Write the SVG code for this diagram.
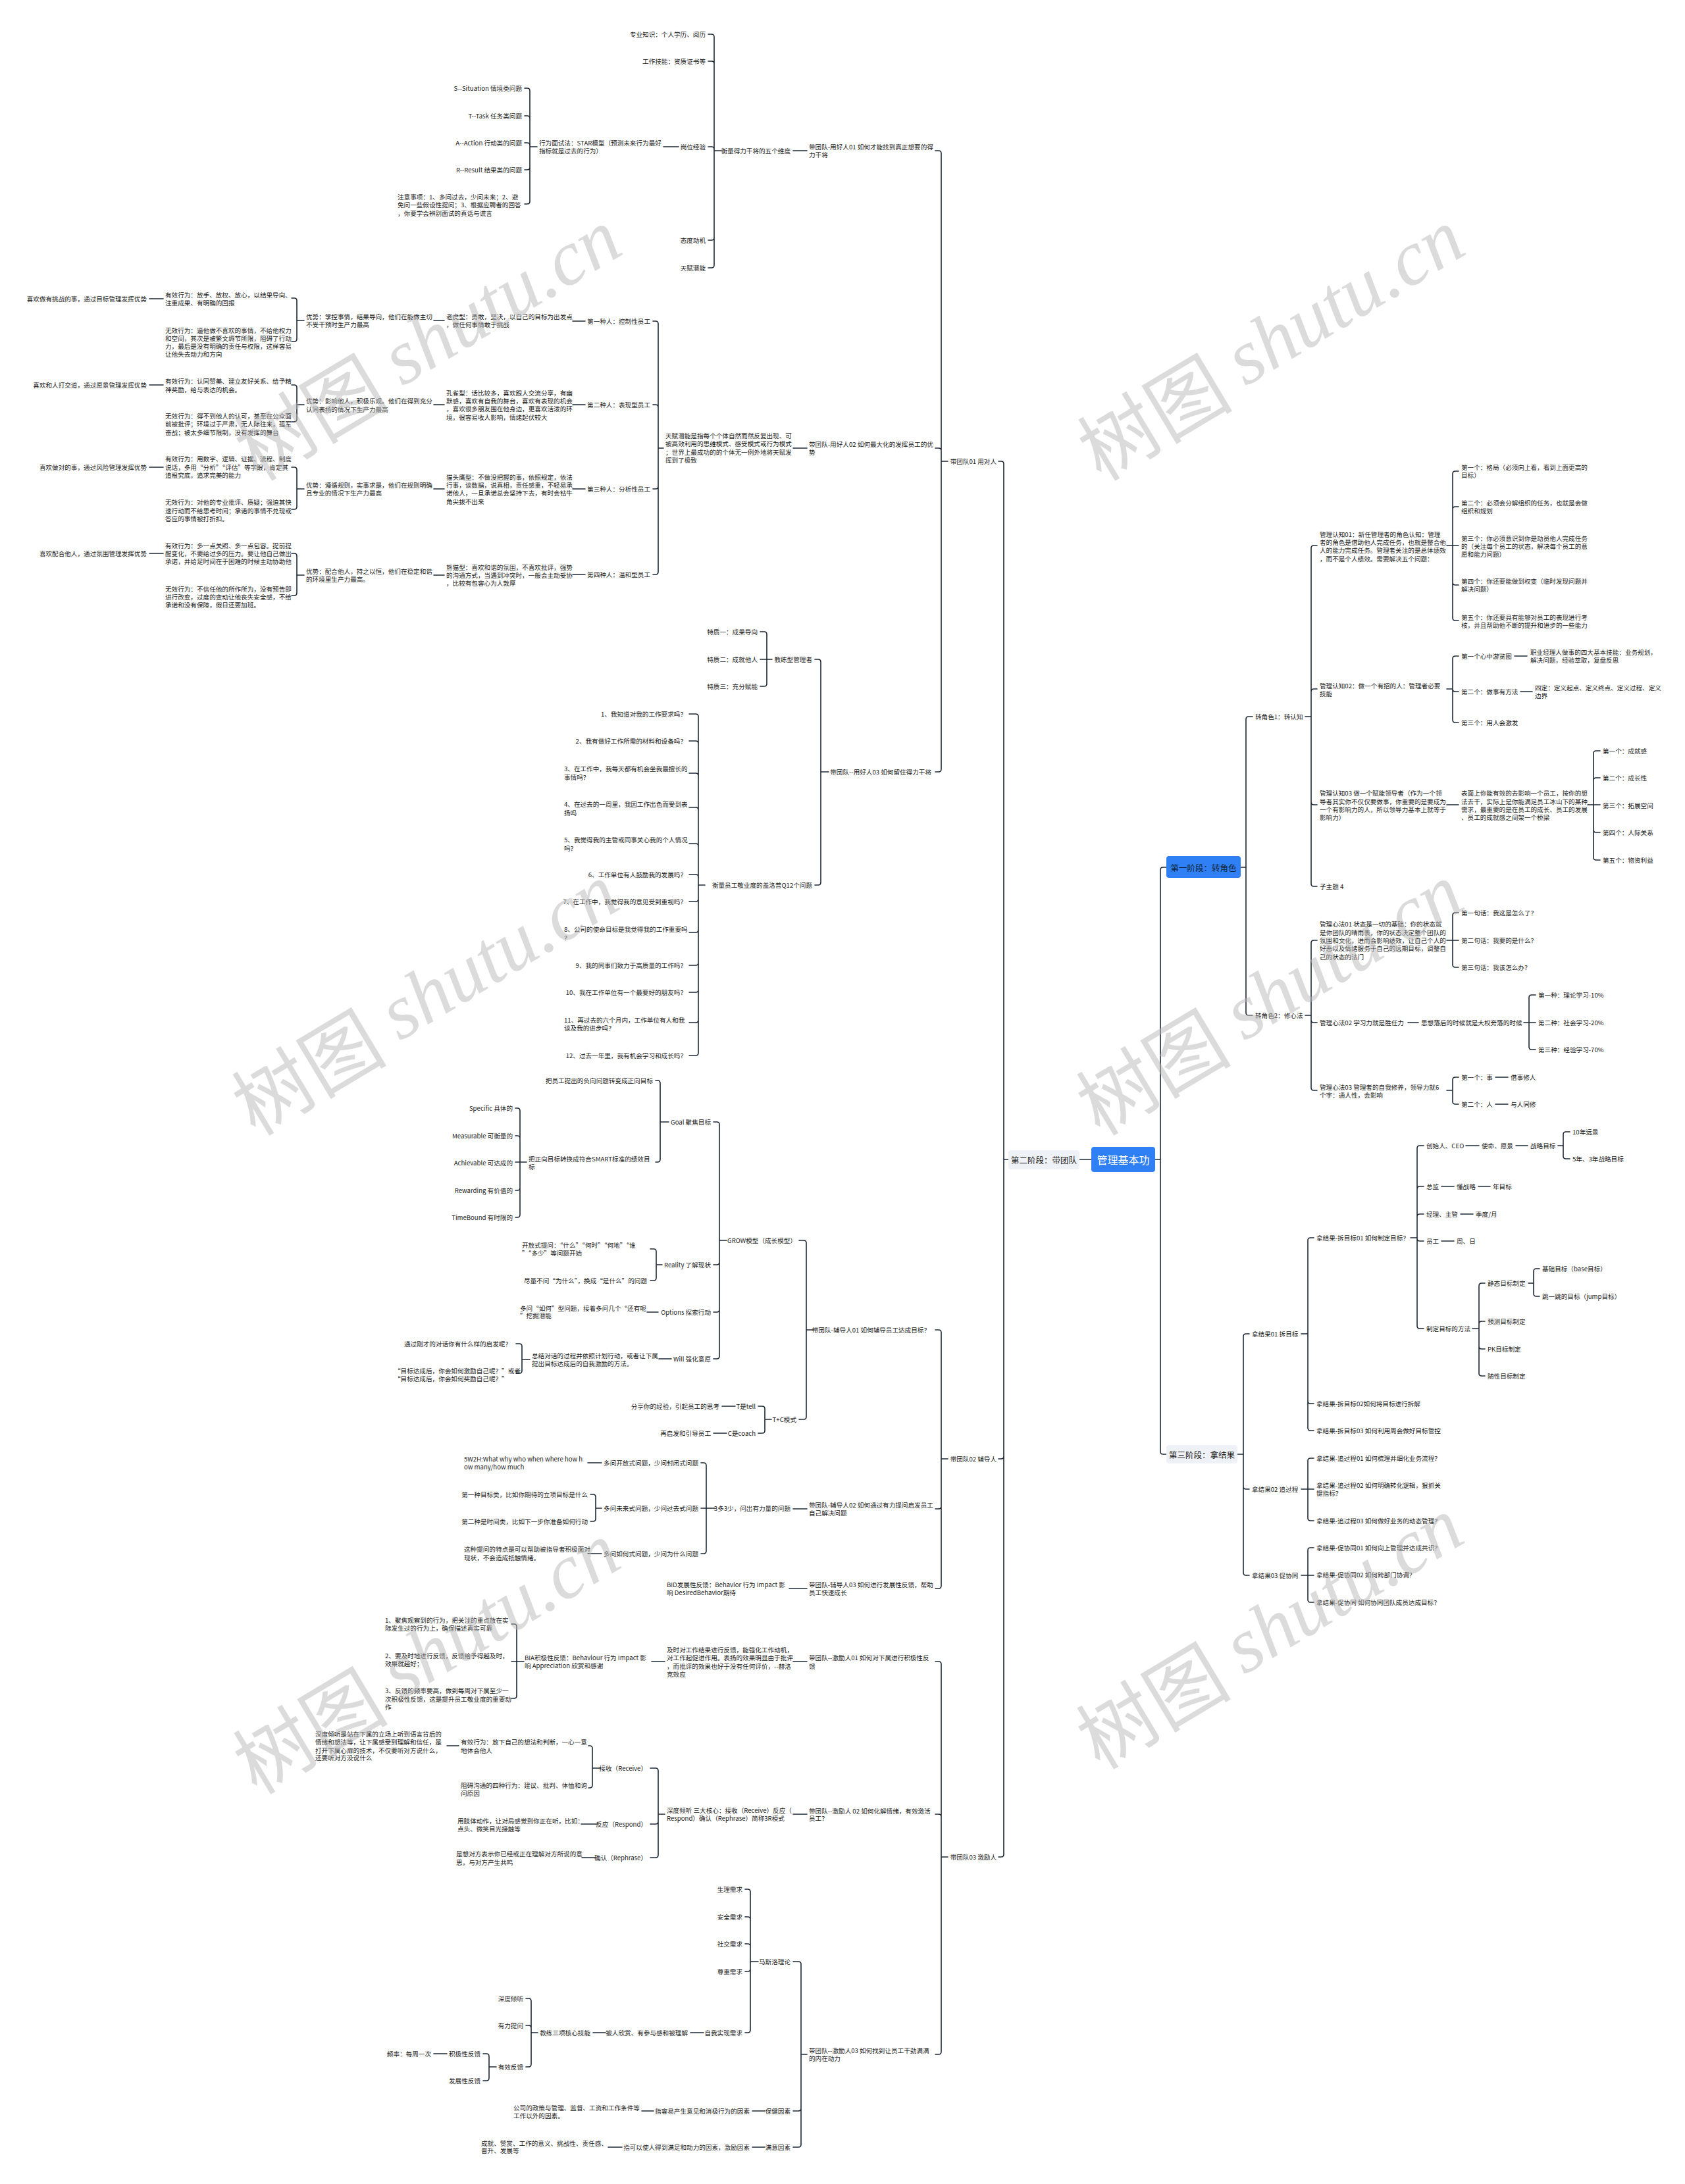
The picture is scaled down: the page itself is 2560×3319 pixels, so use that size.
<svg xmlns="http://www.w3.org/2000/svg" width="2560" height="3319" viewBox="0 0 2560 3319">
<style>
text{font-family:"Noto Sans CJK SC","Noto Sans",sans-serif;font-size:9.6px;fill:#1a1a1a;dominant-baseline:central}
.e{text-anchor:end}
.c{stroke:#1d2734;stroke-width:1.6;fill:none;stroke-linecap:round}
.big{font-size:12.5px}
.wm{font-size:118px;fill:#b8b8b8;opacity:0.5;text-anchor:middle}
</style>
<rect width="2560" height="3319" fill="#fff"/>
<g id="connectors" class="c">
<path d="M1658,1762H1640 M1532,1762H1525 M1525,1762V705Q1525,701 1521,701H1517 M1525,1762V2213Q1525,2217 1521,2217H1517 M1525,1762V2818Q1525,2822 1521,2822H1517"/>
<path d="M1755,1762H1763 M1763,1762V1322Q1763,1318 1767,1318H1772 M1763,1762V2206Q1763,2210 1767,2210H1772"/>
<path d="M1440,701H1430 M1430,701V233Q1430,229 1426,229H1421 M1430,701V685Q1430,681 1426,681H1421 M1430,701V1169Q1430,1173 1426,1173H1421"/>
<path d="M1226,229H1205"/>
<path d="M1096,229H1085 M1085,229V56Q1085,52 1081,52H1076 M1085,229V97Q1085,93 1081,93H1076 M1085,229V227Q1085,223 1081,223H1076 M1085,229V361Q1085,365 1081,365H1076 M1085,229V403Q1085,407 1081,407H1076"/>
<path d="M1031,223H1008"/>
<path d="M816,223H805 M805,223V138Q805,134 801,134H797 M805,223V180Q805,176 801,176H797 M805,223V221Q805,217 801,217H797 M805,223V254Q805,258 801,258H797 M805,223V306Q805,310 801,310H797"/>
<path d="M1226,681H1205"/>
<path d="M1008,681H1000 M1000,681V492Q1000,488 996,488H992 M1000,681V619Q1000,615 996,615H992 M1000,681V739Q1000,743 996,743H992 M1000,681V869Q1000,873 996,873H992"/>
<path d="M889,488H870 M889,615H870 M889,743H870 M889,873H870"/>
<path d="M675,487H659 M675,615H659 M675,743H659 M675,874H659"/>
<path d="M462,487H451 M451,487V457Q451,453 447,453H443 M451,487V515Q451,519 447,519H443"/>
<path d="M462,615H451 M451,615V589Q451,585 447,585H443 M451,615V637Q451,641 447,641H443"/>
<path d="M462,743H451 M451,743V714Q451,710 447,710H443 M451,743V770Q451,774 447,774H443"/>
<path d="M462,874H451 M451,874V845Q451,841 447,841H443 M451,874V901Q451,905 447,905H443"/>
<path d="M248,454H227 M248,585H227 M248,710H227 M248,841H227"/>
<path d="M1259,1173H1247 M1247,1173V1006Q1247,1002 1243,1002H1238 M1247,1173V1341Q1247,1345 1243,1345H1238"/>
<path d="M1173,1002H1155 M1165,1002V964Q1165,960 1161,960H1155 M1165,1002V1039Q1165,1043 1161,1043H1155"/>
<path d="M1071,1345H1061 M1061,1345V1089Q1061,1085 1057,1085H1047 M1061,1345V1130Q1061,1126 1057,1126H1047 M1061,1345V1179Q1061,1175 1057,1175H1047 M1061,1345V1231Q1061,1227 1057,1227H1047 M1061,1345V1286Q1061,1282 1057,1282H1047 M1061,1345V1333Q1061,1329 1057,1329H1047 M1061,1345V1366Q1061,1370 1057,1370H1047 M1061,1345V1413Q1061,1417 1057,1417H1047 M1061,1345V1463Q1061,1467 1057,1467H1047 M1061,1345V1504Q1061,1508 1057,1508H1047 M1061,1345V1550Q1061,1554 1057,1554H1047 M1061,1345V1600Q1061,1604 1057,1604H1047"/>
<path d="M1440,2217H1430 M1430,2217V2025Q1430,2021 1426,2021H1421 M1430,2217V2289Q1430,2293 1426,2293H1421 M1430,2217V2410Q1430,2414 1426,2414H1421"/>
<path d="M1236,2021H1225 M1225,2021V1889Q1225,1885 1221,1885H1214 M1225,2021V2153Q1225,2157 1221,2157H1214"/>
<path d="M1104,1885H1093 M1093,1885V1709Q1093,1705 1089,1705H1084 M1093,1885V1918Q1093,1922 1089,1922H1084 M1093,1885V1990Q1093,1994 1089,1994H1084 M1093,1885V2061Q1093,2065 1089,2065H1084"/>
<path d="M1016,1705H1003 M1003,1705V1646Q1003,1642 999,1642H996 M1003,1705V1762Q1003,1766 999,1766H996"/>
<path d="M800,1766H783 M790,1766V1688Q790,1684 786,1684H783 M790,1766V1730Q790,1726 786,1726H783 M790,1766V1805Q790,1809 786,1809H783 M790,1766V1846Q790,1850 786,1850H783"/>
<path d="M1006,1922H997 M997,1922V1902Q997,1898 993,1898H988 M997,1922V1942Q997,1946 993,1946H988"/>
<path d="M1000,1994H983 M1020,2065H1001"/>
<path d="M805,2066H793 M793,2066V2046Q793,2042 789,2042H784 M793,2066V2083Q793,2087 789,2087H784"/>
<path d="M1172,2157H1162 M1162,2157V2141Q1162,2137 1158,2137H1152 M1162,2157V2174Q1162,2178 1158,2178H1152"/>
<path d="M1117,2137H1097 M1104,2178H1084"/>
<path d="M1226,2293H1205"/>
<path d="M1086,2292H1065 M1073,2292V2227Q1073,2223 1069,2223H1065 M1073,2292V2357Q1073,2361 1069,2361H1065"/>
<path d="M914,2223H893 M914,2361H893"/>
<path d="M914,2292H905 M905,2292V2275Q905,2271 901,2271H897 M905,2292V2308Q905,2312 901,2312H897"/>
<path d="M1226,2414H1199"/>
<path d="M1440,2822H1430 M1430,2822V2529Q1430,2525 1426,2525H1421 M1430,2822V2761Q1430,2757 1426,2757H1421 M1430,2822V3118Q1430,3122 1426,3122H1421"/>
<path d="M1226,2525H1205 M1010,2525H990"/>
<path d="M796,2525H777 M785,2525V2472Q785,2468 781,2468H777 M785,2525V2577Q785,2581 781,2581H777"/>
<path d="M1226,2757H1205"/>
<path d="M1010,2757H1000 M1000,2757V2691Q1000,2687 996,2687H988 M1000,2757V2768Q1000,2772 996,2772H988 M1000,2757V2819Q1000,2823 996,2823H988"/>
<path d="M912,2687H900 M900,2687V2657Q900,2653 896,2653H894 M900,2687V2713Q900,2717 896,2717H894"/>
<path d="M697,2653H679 M907,2772H883 M904,2823H884"/>
<path d="M1226,3122H1217 M1217,3122V2985Q1217,2981 1213,2981H1205 M1217,3122V3204Q1217,3208 1213,3208H1205 M1217,3122V3259Q1217,3263 1213,3263H1205"/>
<path d="M1152,2981H1140 M1140,2981V2875Q1140,2871 1136,2871H1132 M1140,2981V2917Q1140,2913 1136,2913H1132 M1140,2981V2958Q1140,2954 1136,2954H1132 M1140,2981V2992Q1140,2996 1136,2996H1132 M1140,2981V3085Q1140,3089 1136,3089H1132"/>
<path d="M1069,3089H1049 M920,3089H901"/>
<path d="M817,3089H807 M807,3089V3041Q807,3037 803,3037H799 M807,3089V3082Q807,3078 803,3078H799 M807,3089V3137Q807,3141 803,3141H799"/>
<path d="M754,3141H743 M743,3141V3125Q743,3121 739,3121H734 M743,3141V3158Q743,3162 739,3162H734"/>
<path d="M679,3121H659"/>
<path d="M1162,3208H1143 M993,3208H975 M1162,3263H1143 M945,3263H924"/>
<path d="M1885,1318H1893 M1893,1318V1093Q1893,1089 1897,1089H1903 M1893,1318V1539Q1893,1543 1897,1543H1903"/>
<path d="M1983,1089H1992 M1992,1089V833Q1992,829 1996,829H2001 M1992,1089V1051Q1992,1047 1996,1047H2001 M1992,1089V1219Q1992,1223 1996,1223H2001 M1992,1089V1343Q1992,1347 1996,1347H2001"/>
<path d="M2198,829H2216 M2207,829V720Q2207,716 2211,716H2216 M2207,829V774Q2207,770 2211,770H2216 M2207,829V885Q2207,889 2211,889H2216 M2207,829V939Q2207,943 2211,943H2216"/>
<path d="M2198,1047H2207 M2207,1047V1001Q2207,997 2211,997H2216 M2207,1047Q2207,1051 2211,1051H2216 M2207,1047V1094Q2207,1098 2211,1098H2216"/>
<path d="M2301,997H2320 M2310,1051H2328"/>
<path d="M2198,1223H2216"/>
<path d="M2412,1223H2431 M2421,1223V1145Q2421,1141 2425,1141H2431 M2421,1223V1186Q2421,1182 2425,1182H2431 M2421,1223V1261Q2421,1265 2425,1265H2431 M2421,1223V1303Q2421,1307 2425,1307H2431"/>
<path d="M1983,1543H1992 M1992,1543V1433Q1992,1429 1996,1429H2001 M1992,1543V1550Q1992,1554 1996,1554H2001 M1992,1543V1653Q1992,1657 1996,1657H2001"/>
<path d="M2198,1429H2216 M2207,1429V1391Q2207,1387 2211,1387H2216 M2207,1429V1466Q2207,1470 2211,1470H2216"/>
<path d="M2139,1554H2155 M2315,1554H2333 M2323,1554V1516Q2323,1512 2327,1512H2333 M2323,1554V1591Q2323,1595 2327,1595H2333"/>
<path d="M2198,1657H2207 M2207,1657V1641Q2207,1637 2211,1637H2216 M2207,1657V1674Q2207,1678 2211,1678H2216"/>
<path d="M2272,1637H2291 M2272,1678H2291"/>
<path d="M1880,2210H1889 M1889,2210V2031Q1889,2027 1893,2027H1898 M1889,2210V2259Q1889,2263 1893,2263H1898 M1889,2210V2390Q1889,2394 1893,2394H1898"/>
<path d="M1977,2027H1987 M1987,2027V1885Q1987,1881 1991,1881H1996 M1987,2027V2129Q1987,2133 1991,2133H1996 M1987,2027V2170Q1987,2174 1991,2174H1996"/>
<path d="M2143,1881H2153 M2153,1881V1745Q2153,1741 2157,1741H2163 M2153,1881V1807Q2153,1803 2157,1803H2163 M2153,1881V1849Q2153,1845 2157,1845H2163 M2153,1881V1882Q2153,1886 2157,1886H2163 M2153,1881V2015Q2153,2019 2157,2019H2163"/>
<path d="M2227,1741H2247 M2303,1741H2321"/>
<path d="M2367,1741H2375 M2375,1741V1724Q2375,1720 2379,1720H2385 M2375,1741V1757Q2375,1761 2379,1761H2385"/>
<path d="M2190,1803H2209 M2246,1803H2264 M2219,1845H2238 M2190,1886H2209"/>
<path d="M2237,2019H2247 M2247,2019V1954Q2247,1950 2251,1950H2256 M2247,2019V2012Q2247,2008 2251,2008H2256 M2247,2019V2046Q2247,2050 2251,2050H2256 M2247,2019V2087Q2247,2091 2251,2091H2256"/>
<path d="M2322,1950H2330 M2330,1950V1932Q2330,1928 2334,1928H2339 M2330,1950V1966Q2330,1970 2334,1970H2339"/>
<path d="M1977,2263H1996 M1987,2263V2220Q1987,2216 1991,2216H1996 M1987,2263V2307Q1987,2311 1991,2311H1996"/>
<path d="M1977,2394H1996 M1987,2394V2356Q1987,2352 1991,2352H1996 M1987,2394V2431Q1987,2435 1991,2435H1996"/>
</g>

<g id="root"><rect x="1658" y="1743" width="97" height="38" rx="4" fill="#2f80f5"/><text x="1706.5" y="1762" text-anchor="middle" style="font-size:16px;fill:#fff">管理基本功</text></g>
<g id="stage2"><rect x="1532" y="1748" width="108" height="29" rx="4" fill="#eef1f5"/><text x="1586" y="1762.5" text-anchor="middle" class="big">第二阶段：带团队</text></g>
<g id="stage1"><rect x="1772" y="1301" width="113" height="33" rx="4" fill="#2f80f5"/><text x="1828.5" y="1318" text-anchor="middle" class="big" style="fill:#0f1f33">第一阶段：转角色</text></g>
<g id="stage3"><rect x="1772" y="2196" width="108" height="28" rx="4" fill="#eef1f5"/><text x="1826" y="2210" text-anchor="middle" class="big">第三阶段：拿结果</text></g>

<g id="n-team01"><text x="1514" y="701" class="e">带团队01 用对人</text></g>
<g id="n-team02"><text x="1514" y="2217" class="e">带团队02 辅导人</text></g>
<g id="n-team03"><text x="1514" y="2822" class="e">带团队03 激励人</text></g>

<g id="n-yhr01"><text><tspan x="1229" y="223">带团队-用好人01 如何才能找到真正想要的得</tspan><tspan x="1229" y="235">力干将</tspan></text></g>
<g id="n-hl"><text x="1201" y="229" class="e">衡量得力干将的五个维度</text></g>
<g id="n-zy"><text x="1072" y="52" class="e">专业知识：个人学历、阅历</text></g>
<g id="n-gj"><text x="1072" y="93" class="e">工作技能：资质证书等</text></g>
<g id="n-gw"><text x="1072" y="223" class="e">岗位经验</text></g>
<g id="n-td"><text x="1072" y="365" class="e">态度动机</text></g>
<g id="n-tf"><text x="1072" y="407" class="e">天赋潜能</text></g>
<g id="n-star"><text><tspan x="819" y="217">行为面试法：STAR模型（预测未来行为最好</tspan><tspan x="819" y="229">指标就是过去的行为）</tspan></text></g>
<g id="n-s"><text x="793" y="134" class="e">S--Situation 情境类问题</text></g>
<g id="n-t"><text x="793" y="176" class="e">T--Task 任务类问题</text></g>
<g id="n-a"><text x="793" y="217" class="e">A--Action 行动类的问题</text></g>
<g id="n-r"><text x="793" y="258" class="e">R--Result 结果类的问题</text></g>
<g id="n-zysx"><text><tspan x="604" y="299">注意事项：1、多问过去，少问未来；2、避</tspan><tspan x="604" y="311">免问一些假设性提问；3、根据应聘者的回答</tspan><tspan x="604" y="324">，你要学会辨别面试的真话与谎言</tspan></text></g>

<g id="n-yhr02"><text><tspan x="1229" y="675">带团队-用好人02 如何最大化的发挥员工的优</tspan><tspan x="1229" y="687">势</tspan></text></g>
<g id="n-tfqn"><text><tspan x="1011" y="662">天赋潜能是指每个个体自然而然反复出现、可</tspan><tspan x="1011" y="674">被高效利用的思维模式、感受模式或行为模式</tspan><tspan x="1011" y="687">；世界上最成功的的个体无一例外地将天赋发</tspan><tspan x="1011" y="699">挥到了极致</tspan></text></g>
<g id="n-p1"><text x="988" y="488" class="e">第一种人：控制性员工</text></g>
<g id="n-p2"><text x="988" y="615" class="e">第二种人：表现型员工</text></g>
<g id="n-p3"><text x="988" y="743" class="e">第三种人：分析性员工</text></g>
<g id="n-p4"><text x="988" y="873" class="e">第四种人：温和型员工</text></g>
<g id="n-d1"><text><tspan x="678" y="481">老虎型：勇敢，坚决，以自己的目标为出发点</tspan><tspan x="678" y="493">，做任何事情敢于挑战</tspan></text></g>
<g id="n-d2"><text><tspan x="678" y="597">孔雀型：话比较多，喜欢跟人交流分享，有幽</tspan><tspan x="678" y="609">默感，喜欢有自我的舞台，喜欢有表现的机会</tspan><tspan x="678" y="621">，喜欢很多朋友围在他身边，更喜欢活泼的环</tspan><tspan x="678" y="634">境，很容易收人影响，情绪起伏较大</tspan></text></g>
<g id="n-d3"><text><tspan x="678" y="725">猫头鹰型：不做没把握的事，依照规定，依法</tspan><tspan x="678" y="737">行事，谈数据，说真相，责任感重，不轻易承</tspan><tspan x="678" y="749">诺他人，一旦承诺总会坚持下去，有时会钻牛</tspan><tspan x="678" y="762">角尖拔不出来</tspan></text></g>
<g id="n-d4"><text><tspan x="678" y="862">熊猫型：喜欢和谐的氛围，不喜欢批评，强势</tspan><tspan x="678" y="874">的沟通方式，当遇到冲突时，一般会主动妥协</tspan><tspan x="678" y="886">，比较有包容心为人敦厚</tspan></text></g>
<g id="n-ys1"><text><tspan x="465" y="481">优势：掌控事情，结果导向，他们在能做主切</tspan><tspan x="465" y="493">不受干预时生产力最高</tspan></text></g>
<g id="n-ys2"><text><tspan x="465" y="609">优势：影响他人，积极乐观。他们在得到充分</tspan><tspan x="465" y="622">认同表扬的情况下生产力最高</tspan></text></g>
<g id="n-ys3"><text><tspan x="465" y="737">优势：遵循规则，实事求是，他们在规则明确</tspan><tspan x="465" y="749">且专业的情况下生产力最高</tspan></text></g>
<g id="n-ys4"><text><tspan x="465" y="868">优势：配合他人，持之以恒，他们在稳定和谐</tspan><tspan x="465" y="880">的环境里生产力最高。</tspan></text></g>
<g id="n-yx1"><text><tspan x="251" y="448">有效行为：放手、放权、放心，以结果导向、</tspan><tspan x="251" y="460">注重成果、有明确的回报</tspan></text></g>
<g id="n-wx1"><text><tspan x="251" y="502">无效行为：逼他做不喜欢的事情，不给他权力</tspan><tspan x="251" y="514">和空间，其次是被繁文缛节所限，阻碍了行动</tspan><tspan x="251" y="526">力，最后是没有明确的责任与权限，这样容易</tspan><tspan x="251" y="538">让他失去动力和方向</tspan></text></g>
<g id="n-yx2"><text><tspan x="251" y="579">有效行为：认同赞美、建立友好关系、给予精</tspan><tspan x="251" y="592">神奖励，给与表达的机会。</tspan></text></g>
<g id="n-wx2"><text><tspan x="251" y="632">无效行为：得不到他人的认可，甚至在公众面</tspan><tspan x="251" y="644">前被批评；环境过于严肃，无人际往来，孤军</tspan><tspan x="251" y="657">奋战；被太多细节限制，没有发挥的舞台</tspan></text></g>
<g id="n-yx3"><text><tspan x="251" y="697">有效行为：用数字、逻辑、证据、流程、制度</tspan><tspan x="251" y="710">说话，多用“分析”“评估”等字眼，肯定其</tspan><tspan x="251" y="722">追根究底，追求完美的能力</tspan></text></g>
<g id="n-wx3"><text><tspan x="251" y="763">无效行为：对他的专业批评、质疑；强迫其快</tspan><tspan x="251" y="776">速行动而不给思考时间；承诺的事情不兑现或</tspan><tspan x="251" y="788">答应的事情被打折扣。</tspan></text></g>
<g id="n-yx4"><text><tspan x="251" y="829">有效行为：多一点关照、多一点包容。提前提</tspan><tspan x="251" y="841">醒变化，不要给过多的压力。要让他自己做出</tspan><tspan x="251" y="853">承诺，并给足时间在于困难的时候主动协助他</tspan></text></g>
<g id="n-wx4"><text><tspan x="251" y="895">无效行为：不信任他的所作所为，没有预告即</tspan><tspan x="251" y="907">进行改变，过度的变动让他丧失安全感，不给</tspan><tspan x="251" y="919">承诺和没有保障，假日还要加班。</tspan></text></g>
<g id="n-xh1"><text x="223" y="454" class="e">喜欢做有挑战的事，通过目标管理发挥优势</text></g>
<g id="n-xh2"><text x="223" y="585" class="e">喜欢和人打交道，通过愿景管理发挥优势</text></g>
<g id="n-xh3"><text x="223" y="710" class="e">喜欢做对的事，通过风险管理发挥优势</text></g>
<g id="n-xh4"><text x="223" y="841" class="e">喜欢配合他人，通过氛围管理发挥优势</text></g>

<g id="n-yhr03"><text x="1415" y="1173" class="e">带团队--用好人03 如何留住得力干将</text></g>
<g id="n-jlx"><text x="1234" y="1002" class="e">教练型管理者</text></g>
<g id="n-q12"><text x="1234" y="1345" class="e">衡量员工敬业度的盖洛普Q12个问题</text></g>
<g id="n-tz1"><text x="1151" y="960" class="e">特质一：成果导向</text></g>
<g id="n-tz2"><text x="1151" y="1002" class="e">特质二：成就他人</text></g>
<g id="n-tz3"><text x="1151" y="1043" class="e">特质三：充分赋能</text></g>
<g id="n-q1"><text x="1043" y="1085" class="e">1、我知道对我的工作要求吗？</text></g>
<g id="n-q2"><text x="1043" y="1126" class="e">2、我有做好工作所需的材料和设备吗？</text></g>
<g id="n-q3"><text><tspan x="857" y="1168">3、在工作中，我每天都有机会坐我最擅长的</tspan><tspan x="857" y="1181">事情吗？</tspan></text></g>
<g id="n-q4"><text><tspan x="857" y="1222">4、在过去的一周里，我因工作出色而受到表</tspan><tspan x="857" y="1235">扬吗</tspan></text></g>
<g id="n-q5"><text><tspan x="857" y="1276">5、我觉得我的主管或同事关心我的个人情况</tspan><tspan x="857" y="1289">吗？</tspan></text></g>
<g id="n-q6"><text x="1043" y="1329" class="e">6、工作单位有人鼓励我的发展吗？</text></g>
<g id="n-q7"><text x="1043" y="1370" class="e">7、在工作中，我觉得我的意见受到重视吗？</text></g>
<g id="n-q8"><text><tspan x="857" y="1412">8、公司的使命目标是我觉得我的工作重要吗</tspan><tspan x="857" y="1425">？</tspan></text></g>
<g id="n-q9"><text x="1043" y="1467" class="e">9、我的同事们致力于高质量的工作吗？</text></g>
<g id="n-q10"><text x="1043" y="1508" class="e">10、我在工作单位有一个最要好的朋友吗？</text></g>
<g id="n-q11"><text><tspan x="857" y="1550">11、再过去的六个月内，工作单位有人和我</tspan><tspan x="857" y="1562">谈及我的进步吗？</tspan></text></g>
<g id="n-q12b"><text x="1043" y="1604" class="e">12、过去一年里，我有机会学习和成长吗？</text></g>

<g id="n-fd01"><text x="1413" y="2021" class="e">带团队-辅导人01 如何辅导员工达成目标？</text></g>
<g id="n-grow"><text x="1210" y="1885" class="e">GROW模型（成长模型）</text></g>
<g id="n-tc"><text x="1210" y="2157" class="e">T+C模式</text></g>
<g id="n-goal"><text x="1080" y="1705" class="e">Goal 聚焦目标</text></g>
<g id="n-reality"><text x="1080" y="1922" class="e">Reality 了解现状</text></g>
<g id="n-options"><text x="1080" y="1994" class="e">Options 探索行动</text></g>
<g id="n-will"><text x="1080" y="2065" class="e">Will 强化意愿</text></g>
<g id="n-fx"><text x="992" y="1642" class="e">把员工提出的负向问题转变成正向目标</text></g>
<g id="n-smart"><text><tspan x="803" y="1761">把正向目标转换成符合SMART标准的绩效目</tspan><tspan x="803" y="1773">标</tspan></text></g>
<g id="n-sp"><text x="779" y="1684" class="e">Specific 具体的</text></g>
<g id="n-me"><text x="779" y="1726" class="e">Measurable 可衡量的</text></g>
<g id="n-ac"><text x="779" y="1767" class="e">Achievable 可达成的</text></g>
<g id="n-re"><text x="779" y="1809" class="e">Rewarding 有价值的</text></g>
<g id="n-tb"><text x="779" y="1850" class="e">TimeBound 有时限的</text></g>
<g id="n-kf"><text><tspan x="793" y="1892">开放式提问：“什么”“何时”“何地”“谁</tspan><tspan x="793" y="1904">”“多少”等问题开始</tspan></text></g>
<g id="n-jl"><text x="983" y="1946" class="e">尽量不问“为什么”，换成“是什么”的问题</text></g>
<g id="n-op"><text><tspan x="790" y="1988">多问“如何”型问题，接着多问几个“还有呢</tspan><tspan x="790" y="1999">”挖掘潜能</tspan></text></g>
<g id="n-zj"><text><tspan x="808" y="2060">总结对话的过程并依照计划行动，或者让下属</tspan><tspan x="808" y="2072">提出目标达成后的自我激励的方法。</tspan></text></g>
<g id="n-tg"><text x="777" y="2042" class="e">通过刚才的对话你有什么样的启发呢？</text></g>
<g id="n-mb"><text><tspan x="599" y="2083">“目标达成后，你会如何激励自己呢？”或者</tspan><tspan x="599" y="2095">“目标达成后，你会如何奖励自己呢？”</tspan></text></g>
<g id="n-tell"><text x="1148" y="2137" class="e">T是tell</text></g>
<g id="n-coach"><text x="1148" y="2178" class="e">C是coach</text></g>
<g id="n-fx2"><text x="1093" y="2137" class="e">分享你的经验，引起员工的思考</text></g>
<g id="n-zqf"><text x="1080" y="2178" class="e">再启发和引导员工</text></g>

<g id="n-fd02"><text><tspan x="1229" y="2287">带团队-辅导人02 如何通过有力提问启发员工</tspan><tspan x="1229" y="2299">自己解决问题</tspan></text></g>
<g id="n-3d3s"><text x="1201" y="2292" class="e">3多3少，问出有力量的问题</text></g>
<g id="n-kfs"><text x="1061" y="2223" class="e">多问开放式问题，少问封闭式问题</text></g>
<g id="n-wls"><text x="1061" y="2292" class="e">多问未来式问题，少问过去式问题</text></g>
<g id="n-rhs"><text x="1061" y="2361" class="e">多问如何式问题，少问为什么问题</text></g>
<g id="n-5w2h"><text><tspan x="705" y="2217">5W2H:What why who when where how h</tspan><tspan x="705" y="2229">ow many/how much</tspan></text></g>
<g id="n-mbl"><text x="893" y="2271" class="e">第一种目标类，比如你期待的立项目标是什么</text></g>
<g id="n-sjl"><text x="893" y="2312" class="e">第二种是时间类，比如下一步你准备如何行动</text></g>
<g id="n-zztw"><text><tspan x="705" y="2354">这种提问的特点是可以帮助被指导者积极面对</tspan><tspan x="705" y="2367">现状，不会造成抵触情绪。</tspan></text></g>
<g id="n-fd03"><text><tspan x="1229" y="2408">带团队-辅导人03 如何进行发展性反馈，帮助</tspan><tspan x="1229" y="2420">员工快速成长</tspan></text></g>
<g id="n-bid"><text><tspan x="1013" y="2408">BID发展性反馈：Behavior 行为 Impact 影</tspan><tspan x="1013" y="2420">响 DesiredBehavior期待</tspan></text></g>

<g id="n-jl01"><text><tspan x="1229" y="2519">带团队--激励人01 如何对下属进行积极性反</tspan><tspan x="1229" y="2532">馈</tspan></text></g>
<g id="n-js"><text><tspan x="1013" y="2507">及时对工作结果进行反馈，能强化工作动机，</tspan><tspan x="1013" y="2519">对工作起促进作用。表扬的效果明显由于批评</tspan><tspan x="1013" y="2532">，而批评的效果也好于没有任何评价，--赫洛</tspan><tspan x="1013" y="2544">克效应</tspan></text></g>
<g id="n-bia"><text><tspan x="797" y="2519">BIA积极性反馈：Behaviour 行为 Impact 影</tspan><tspan x="797" y="2531">响 Appreciation 欣赏和感谢</tspan></text></g>
<g id="n-b1"><text><tspan x="585" y="2462">1、聚焦观察到的行为，把关注的重点放在实</tspan><tspan x="585" y="2474">际发生过的行为上，确保描述真实可靠</tspan></text></g>
<g id="n-b2"><text><tspan x="585" y="2516">2、要及时地进行反馈，反馈给予得越及时，</tspan><tspan x="585" y="2528">效果就越好；</tspan></text></g>
<g id="n-b3"><text><tspan x="585" y="2569">3、反馈的频率要高，做到每周对下属至少一</tspan><tspan x="585" y="2582">次积极性反馈，这是提升员工敬业度的重要动</tspan><tspan x="585" y="2594">作</tspan></text></g>
<g id="n-jl02"><text><tspan x="1229" y="2752">带团队--激励人 02 如何化解情绪，有效激活</tspan><tspan x="1229" y="2763">员工？</tspan></text></g>
<g id="n-3r"><text><tspan x="1013" y="2751">深度倾听 三大核心：接收（Receive）反应（</tspan><tspan x="1013" y="2763">Respond）确认（Rephrase）简称3R模式</tspan></text></g>
<g id="n-receive"><text x="983" y="2687" class="e">接收（Receive）</text></g>
<g id="n-respond"><text x="983" y="2772" class="e">反应（Respond）</text></g>
<g id="n-rephrase"><text x="983" y="2823" class="e">确认（Rephrase）</text></g>
<g id="n-yxxw"><text><tspan x="700" y="2647">有效行为：放下自己的想法和判断，一心一意</tspan><tspan x="700" y="2660">地体会他人</tspan></text></g>
<g id="n-za"><text><tspan x="700" y="2713">阻碍沟通的四种行为：建议、批判、体恤和询</tspan><tspan x="700" y="2725">问原因</tspan></text></g>
<g id="n-sdqt"><text><tspan x="479" y="2635">深度倾听是站在下属的立场上听到语言背后的</tspan><tspan x="479" y="2647">情绪和想法等，让下属感受到理解和信任，是</tspan><tspan x="479" y="2660">打开下属心扉的技术，不仅要听对方说什么，</tspan><tspan x="479" y="2671">还要听对方没说什么</tspan></text></g>
<g id="n-zt"><text><tspan x="695" y="2767">用肢体动作，让对局感觉到你正在听，比如：</tspan><tspan x="695" y="2779">点头、微笑目光接触等</tspan></text></g>
<g id="n-sx"><text><tspan x="693" y="2817">是想对方表示你已经或正在理解对方所说的意</tspan><tspan x="693" y="2830">思，与对方产生共鸣</tspan></text></g>
<g id="n-jl03"><text><tspan x="1229" y="3116">带团队--激励人03 如何找到让员工干劲满满</tspan><tspan x="1229" y="3128">的内在动力</tspan></text></g>
<g id="n-msl"><text x="1201" y="2981" class="e">马斯洛理论</text></g>
<g id="n-bj"><text x="1201" y="3208" class="e">保健因素</text></g>
<g id="n-my"><text x="1201" y="3263" class="e">满意因素</text></g>
<g id="n-sl"><text x="1128" y="2871" class="e">生理需求</text></g>
<g id="n-aq"><text x="1128" y="2913" class="e">安全需求</text></g>
<g id="n-sj"><text x="1128" y="2954" class="e">社交需求</text></g>
<g id="n-zz"><text x="1128" y="2996" class="e">尊重需求</text></g>
<g id="n-zw"><text x="1128" y="3089" class="e">自我实现需求</text></g>
<g id="n-brxs"><text x="1045" y="3089" class="e">被人欣赏、有参与感和被理解</text></g>
<g id="n-jlsx"><text x="897" y="3089" class="e">教练三项核心技能</text></g>
<g id="n-sd"><text x="795" y="3037" class="e">深度倾听</text></g>
<g id="n-yl"><text x="795" y="3078" class="e">有力提问</text></g>
<g id="n-yf"><text x="795" y="3141" class="e">有效反馈</text></g>
<g id="n-jjf"><text x="730" y="3121" class="e">积极性反馈</text></g>
<g id="n-fzf"><text x="730" y="3162" class="e">发展性反馈</text></g>
<g id="n-pl"><text x="655" y="3121" class="e">频率：每周一次</text></g>
<g id="n-zry"><text x="1139" y="3208" class="e">指容易产生意见和消极行为的因素</text></g>
<g id="n-gs"><text><tspan x="780" y="3203">公司的政策与管理、监督、工资和工作条件等</tspan><tspan x="780" y="3215">工作以外的因素。</tspan></text></g>
<g id="n-zky"><text x="1139" y="3263" class="e">指可以使人得到满足和动力的因素，激励因素</text></g>
<g id="n-cj"><text><tspan x="731" y="3257">成就、赞赏、工作的意义、挑战性、责任感、</tspan><tspan x="731" y="3268">晋升、发展等</tspan></text></g>

<g id="n-zrz"><text x="1907" y="1089">转角色1：转认知</text></g>
<g id="n-xxf"><text x="1907" y="1543">转角色2：修心法</text></g>
<g id="n-rz01"><text><tspan x="2005" y="812">管理认知01：新任管理者的角色认知：管理</tspan><tspan x="2005" y="824">者的角色是借助他人完成任务，也就是整合他</tspan><tspan x="2005" y="836">人的能力完成任务。管理者关注的是总体绩效</tspan><tspan x="2005" y="849">，而不是个人绩效。需要解决五个问题：</tspan></text></g>
<g id="n-rz02"><text><tspan x="2005" y="1042">管理认知02：做一个有招的人：管理者必要</tspan><tspan x="2005" y="1054">技能</tspan></text></g>
<g id="n-rz03"><text><tspan x="2005" y="1205">管理认知03 做一个赋能领导者（作为一个领</tspan><tspan x="2005" y="1218">导者其实你不仅仅要做事，你重要的是要成为</tspan><tspan x="2005" y="1230">一个有影响力的人，所以领导力基本上就等于</tspan><tspan x="2005" y="1242">影响力）</tspan></text></g>
<g id="n-zzt4"><text x="2005" y="1347">子主题 4</text></g>
<g id="n-r1a"><text><tspan x="2220" y="710">第一个：格局（必须向上看，看到上面更高的</tspan><tspan x="2220" y="722">目标）</tspan></text></g>
<g id="n-r1b"><text><tspan x="2220" y="764">第二个：必须会分解组织的任务，也就是会做</tspan><tspan x="2220" y="776">组织和规划</tspan></text></g>
<g id="n-r1c"><text><tspan x="2220" y="818">第三个：你必须意识到你是动员他人完成任务</tspan><tspan x="2220" y="830">的（关注每个员工的状态，解决每个员工的意</tspan><tspan x="2220" y="842">愿和能力问题）</tspan></text></g>
<g id="n-r1d"><text><tspan x="2220" y="883">第四个：你还要能做到权变（临时发现问题并</tspan><tspan x="2220" y="895">解决问题）</tspan></text></g>
<g id="n-r1e"><text><tspan x="2220" y="938">第五个：你还要具有能够对员工的表现进行考</tspan><tspan x="2220" y="950">核，并且帮助他不断的提升和进步的一些能力</tspan></text></g>
<g id="n-r2a"><text x="2220" y="997">第一个心中游览图</text></g>
<g id="n-r2a1"><text><tspan x="2325" y="991">职业经理人做事的四大基本技能：业务规划，</tspan><tspan x="2325" y="1003">解决问题，经验萃取，复盘反思</tspan></text></g>
<g id="n-r2b"><text x="2220" y="1051">第二个：做事有方法</text></g>
<g id="n-r2b1"><text><tspan x="2332" y="1045">四定：定义起点、定义终点、定义过程、定义</tspan><tspan x="2332" y="1057">边界</tspan></text></g>
<g id="n-r2c"><text x="2220" y="1098">第三个：用人会激发</text></g>
<g id="n-r3a"><text><tspan x="2220" y="1205">表面上你能有效的去影响一个员工，按你的想</tspan><tspan x="2220" y="1218">法去干，实际上是你能满足员工冰山下的某种</tspan><tspan x="2220" y="1230">需求，最重要的是在员工的成长、员工的发展</tspan><tspan x="2220" y="1242">、员工的成就感之间架一个桥梁</tspan></text></g>
<g id="n-r3b1"><text x="2435" y="1141">第一个：成就感</text></g>
<g id="n-r3b2"><text x="2435" y="1182">第二个：成长性</text></g>
<g id="n-r3b3"><text x="2435" y="1224">第三个：拓展空间</text></g>
<g id="n-r3b4"><text x="2435" y="1265">第四个：人际关系</text></g>
<g id="n-r3b5"><text x="2435" y="1307">第五个：物资利益</text></g>
<g id="n-xf01"><text><tspan x="2005" y="1404">管理心法01 状态是一切的基础：你的状态就</tspan><tspan x="2005" y="1417">是你团队的晴雨表，你的状态决定整个团队的</tspan><tspan x="2005" y="1429">氛围和文化，进而会影响绩效，让自己个人的</tspan><tspan x="2005" y="1441">好恶以及情绪服务于自己的远期目标，调整自</tspan><tspan x="2005" y="1454">己的状态的法门</tspan></text></g>
<g id="n-xf02"><text x="2005" y="1554">管理心法02 学习力就是胜任力</text></g>
<g id="n-xf03"><text><tspan x="2005" y="1652">管理心法03 管理者的自我修养，领导力就6</tspan><tspan x="2005" y="1664">个字：通人性，会影响</tspan></text></g>
<g id="n-x1a"><text x="2220" y="1387">第一句话：我这是怎么了？</text></g>
<g id="n-x1b"><text x="2220" y="1429">第二句话：我要的是什么？</text></g>
<g id="n-x1c"><text x="2220" y="1470">第三句话：我该怎么办？</text></g>
<g id="n-x2"><text x="2159" y="1554">思想落后的时候就是大权旁落的时候</text></g>
<g id="n-x2a"><text x="2337" y="1512">第一种：理论学习-10%</text></g>
<g id="n-x2b"><text x="2337" y="1554">第二种：社会学习-20%</text></g>
<g id="n-x2c"><text x="2337" y="1595">第三种：经验学习-70%</text></g>
<g id="n-x3a"><text x="2220" y="1637">第一个：事</text></g>
<g id="n-x3a1"><text x="2295" y="1637">借事修人</text></g>
<g id="n-x3b"><text x="2220" y="1678">第二个：人</text></g>
<g id="n-x3b1"><text x="2295" y="1678">与人同修</text></g>

<g id="n-njg01"><text x="1902" y="2027">拿结果01 拆目标</text></g>
<g id="n-njg02"><text x="1902" y="2263">拿结果02 追过程</text></g>
<g id="n-njg03"><text x="1902" y="2394">拿结果03 促协同</text></g>
<g id="n-cmb01"><text x="2000" y="1881">拿结果-拆目标01 如何制定目标？</text></g>
<g id="n-cmb02"><text x="2000" y="2133">拿结果-拆目标02如何将目标进行拆解</text></g>
<g id="n-cmb03"><text x="2000" y="2174">拿结果-拆目标03 如何利用周会做好目标管控</text></g>
<g id="n-ceo"><text x="2167" y="1741">创始人、CEO</text></g>
<g id="n-smyj"><text x="2251" y="1741">使命、愿景</text></g>
<g id="n-zlmb"><text x="2325" y="1741">战略目标</text></g>
<g id="n-10n"><text x="2389" y="1720">10年远景</text></g>
<g id="n-5n"><text x="2389" y="1761">5年、3年战略目标</text></g>
<g id="n-zj2"><text x="2167" y="1803">总监</text></g>
<g id="n-dzl"><text x="2213" y="1803">懂战略</text></g>
<g id="n-nmb"><text x="2268" y="1803">年目标</text></g>
<g id="n-jlzg"><text x="2167" y="1845">经理、主管</text></g>
<g id="n-jdy"><text x="2242" y="1845">季度/月</text></g>
<g id="n-yg"><text x="2167" y="1886">员工</text></g>
<g id="n-zr"><text x="2213" y="1886">周、日</text></g>
<g id="n-zdff"><text x="2167" y="2019">制定目标的方法</text></g>
<g id="n-jt"><text x="2260" y="1950">静态目标制定</text></g>
<g id="n-base"><text x="2343" y="1928">基础目标（base目标）</text></g>
<g id="n-jump"><text x="2343" y="1970">跳一跳的目标（jump目标）</text></g>
<g id="n-yc"><text x="2260" y="2008">预测目标制定</text></g>
<g id="n-pk"><text x="2260" y="2050">PK目标制定</text></g>
<g id="n-sx2"><text x="2260" y="2091">随性目标制定</text></g>
<g id="n-zgc01"><text x="2000" y="2216">拿结果-追过程01 如何梳理并细化业务流程？</text></g>
<g id="n-zgc02"><text><tspan x="2000" y="2257">拿结果-追过程02 如何明确转化逻辑，狠抓关</tspan><tspan x="2000" y="2269">键指标？</tspan></text></g>
<g id="n-zgc03"><text x="2000" y="2311">拿结果-追过程03 如何做好业务的动态管理？</text></g>
<g id="n-cxt01"><text x="2000" y="2352">拿结果-促协同01 如何向上管理并达成共识？</text></g>
<g id="n-cxt02"><text x="2000" y="2393">拿结果-促协同02 如何跨部门协调？</text></g>
<g id="n-cxt03"><text x="2000" y="2435">拿结果-促协同 如何协同团队成员达成目标？</text></g>

<g id="watermarks">
<text class="wm" transform="translate(648,519) rotate(-31)">树图 <tspan style="font-family:'Liberation Serif',serif;font-style:italic">shutu.cn</tspan></text>
<text class="wm" transform="translate(1929,519) rotate(-31)">树图 <tspan style="font-family:'Liberation Serif',serif;font-style:italic">shutu.cn</tspan></text>
<text class="wm" transform="translate(644,1514) rotate(-31)">树图 <tspan style="font-family:'Liberation Serif',serif;font-style:italic">shutu.cn</tspan></text>
<text class="wm" transform="translate(1927,1514) rotate(-31)">树图 <tspan style="font-family:'Liberation Serif',serif;font-style:italic">shutu.cn</tspan></text>
<text class="wm" transform="translate(646,2515) rotate(-31)">树图 <tspan style="font-family:'Liberation Serif',serif;font-style:italic">shutu.cn</tspan></text>
<text class="wm" transform="translate(1927,2477) rotate(-31)">树图 <tspan style="font-family:'Liberation Serif',serif;font-style:italic">shutu.cn</tspan></text>
</g>
</svg>
